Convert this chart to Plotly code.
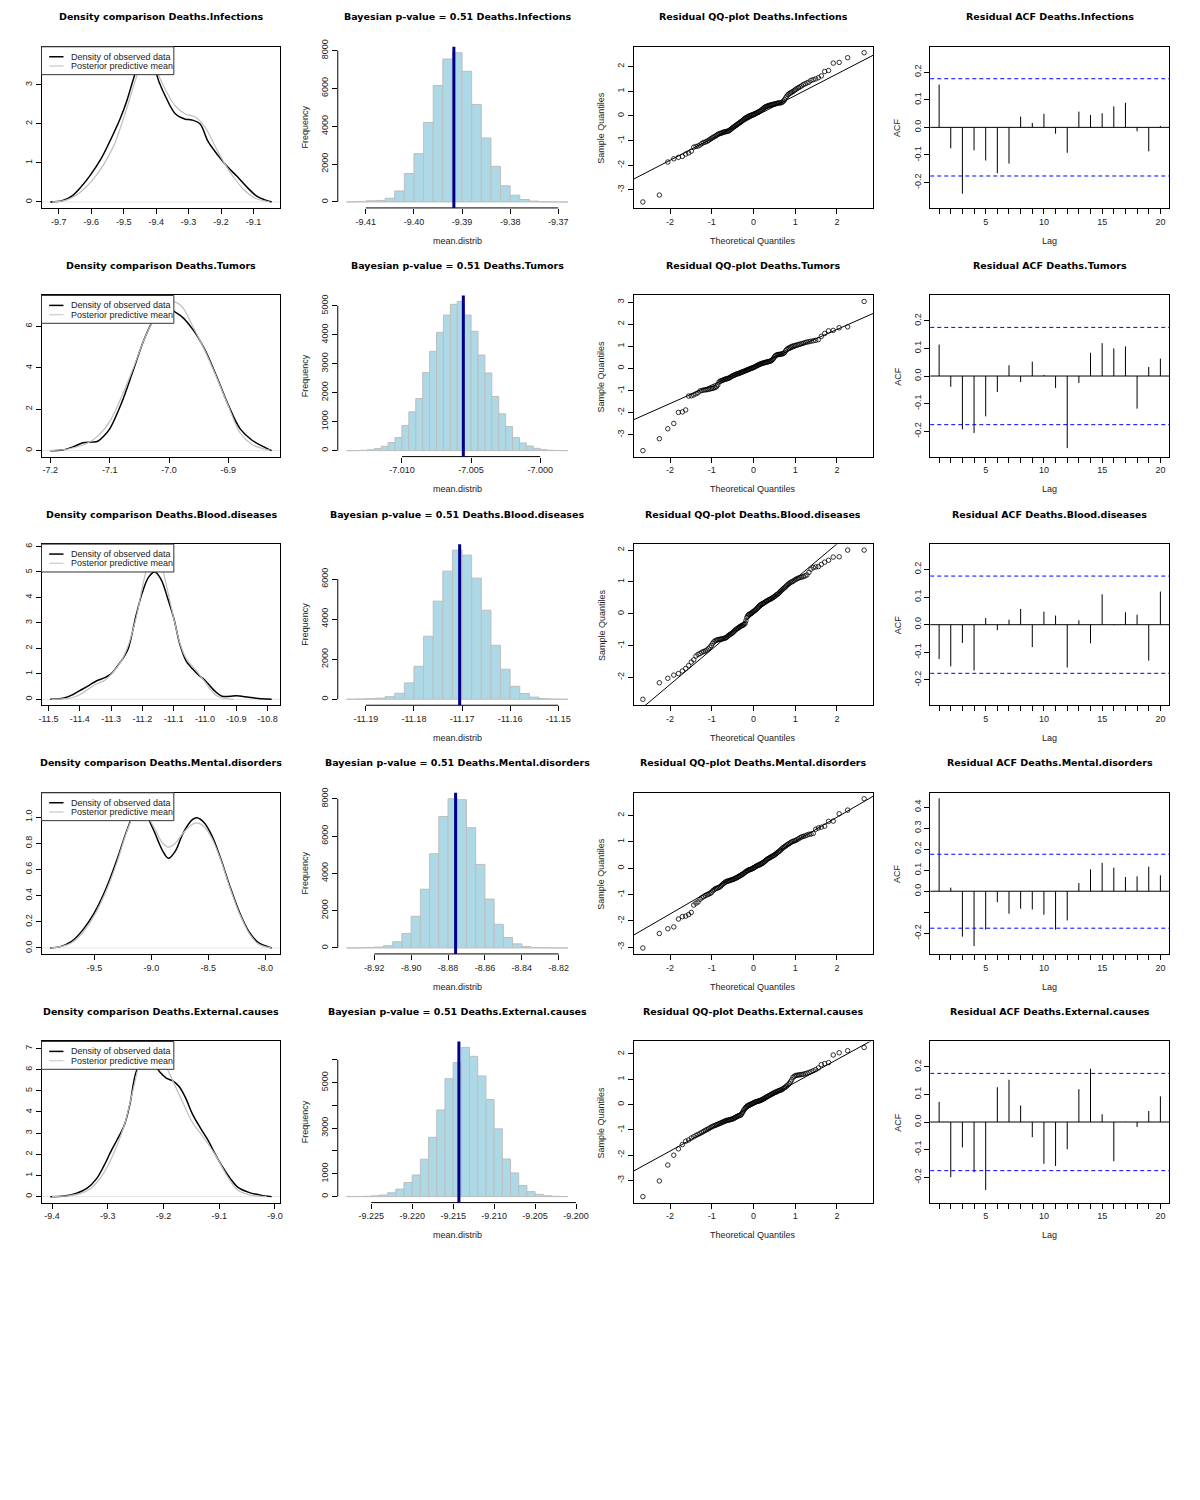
import statistics

import numpy as np
import plotly.graph_objects as go

causes = [
    "Deaths.Infections",
    "Deaths.Tumors",
    "Deaths.Blood.diseases",
    "Deaths.Mental.disorders",
    "Deaths.External.causes",
]
p_values = [0.51, 0.51, 0.51, 0.51, 0.51]

# --- density comparison (observed data vs posterior predictive mean)
obs_x = [
    [-9.726, -9.69, -9.66, -9.63, -9.60, -9.57, -9.54, -9.51, -9.49, -9.47, -9.45, -9.43, -9.41, -9.39,
     -9.37, -9.34, -9.31, -9.29, -9.265, -9.24, -9.21, -9.18, -9.15, -9.12, -9.09, -9.067, -9.044],
    [-7.2, -7.18, -7.16, -7.145, -7.13, -7.12, -7.11, -7.10, -7.08, -7.06, -7.04, -7.02, -7.00, -6.98,
     -6.96, -6.94, -6.92, -6.90, -6.88, -6.86, -6.84, -6.827],
    [-11.494, -11.45, -11.42, -11.40, -11.37, -11.35, -11.32, -11.30, -11.28, -11.26, -11.245, -11.22,
     -11.20, -11.18, -11.16, -11.14, -11.12, -11.10, -11.08, -11.06, -11.04, -11.02, -11.00, -10.97,
     -10.945, -10.92, -10.90, -10.86, -10.82, -10.787],
    [-9.887, -9.80, -9.70, -9.60, -9.50, -9.40, -9.30, -9.235, -9.185, -9.14, -9.10, -9.06, -9.02, -8.97,
     -8.90, -8.85, -8.79, -8.72, -8.64, -8.60, -8.54, -8.47, -8.39, -8.31, -8.225, -8.14, -8.06, -7.944],
    [-9.403, -9.378, -9.357, -9.337, -9.32, -9.307, -9.295, -9.283, -9.27, -9.26, -9.249, -9.235, -9.22,
     -9.207, -9.195, -9.182, -9.172, -9.161, -9.148, -9.134, -9.121, -9.107, -9.094, -9.08, -9.067,
     -9.047, -9.026, -9.006],
]
obs_y = [
    [0.0, 0.03, 0.15, 0.40, 0.72, 1.10, 1.60, 2.15, 2.60, 3.15, 3.65, 3.82, 3.55, 3.05,
     2.68, 2.25, 2.12, 2.10, 2.00, 1.55, 1.20, 0.90, 0.65, 0.38, 0.15, 0.06, 0.0],
    [0.0, 0.03, 0.20, 0.38, 0.41, 0.45, 0.70, 1.05, 2.30, 3.90, 5.50, 6.55, 6.80, 6.50,
     5.85, 4.90, 3.60, 2.20, 1.05, 0.50, 0.18, 0.0],
    [0.0, 0.05, 0.20, 0.34, 0.55, 0.70, 0.85, 1.00, 1.30, 1.65, 2.00, 3.30, 4.20, 4.80, 5.00, 4.70,
     4.00, 3.20, 2.15, 1.50, 1.20, 0.95, 0.75, 0.34, 0.12, 0.12, 0.14, 0.08, 0.02, 0.0],
    [0.0, 0.01, 0.05, 0.14, 0.27, 0.45, 0.68, 0.85, 0.97, 1.08, 1.14, 1.10, 0.98, 0.88, 0.74, 0.685,
     0.74, 0.88, 0.98, 0.995, 0.96, 0.86, 0.68, 0.47, 0.27, 0.12, 0.04, 0.0],
    [0.0, 0.03, 0.15, 0.40, 0.85, 1.45, 2.10, 2.70, 3.40, 4.40, 5.90, 6.55, 6.40, 5.90, 5.60, 5.45,
     5.20, 4.70, 3.90, 3.25, 2.70, 2.00, 1.40, 0.85, 0.45, 0.20, 0.07, 0.0],
]
pred_x = [
    [-9.72, -9.68, -9.65, -9.62, -9.59, -9.56, -9.53, -9.50, -9.47, -9.45, -9.43, -9.41, -9.39, -9.37,
     -9.34, -9.31, -9.28, -9.25, -9.22, -9.19, -9.16, -9.13, -9.10, -9.07, -9.05],
    [-7.2, -7.17, -7.14, -7.12, -7.10, -7.08, -7.06, -7.04, -7.02, -7.00, -6.98, -6.96, -6.94, -6.92,
     -6.90, -6.88, -6.86, -6.84, -6.83],
    [-11.49, -11.43, -11.40, -11.37, -11.35, -11.32, -11.30, -11.27, -11.25, -11.22, -11.20, -11.18,
     -11.16, -11.14, -11.12, -11.10, -11.08, -11.06, -11.04, -11.02, -11.00, -10.98, -10.96, -10.94,
     -10.91],
    [-9.88, -9.80, -9.70, -9.60, -9.50, -9.40, -9.30, -9.235, -9.185, -9.14, -9.10, -9.06, -9.02, -8.97,
     -8.90, -8.85, -8.79, -8.72, -8.64, -8.60, -8.54, -8.47, -8.39, -8.31, -8.225, -8.14, -8.06, -7.95],
    [-9.40, -9.37, -9.35, -9.33, -9.31, -9.29, -9.27, -9.255, -9.24, -9.225, -9.21, -9.20, -9.189,
     -9.168, -9.148, -9.131, -9.107, -9.087, -9.067, -9.047, -9.03, -9.015],
]
pred_y = [
    [0.0, 0.04, 0.15, 0.35, 0.62, 0.98, 1.45, 2.15, 2.95, 3.45, 3.70, 3.55, 3.20, 2.85,
     2.45, 2.25, 2.18, 1.92, 1.45, 1.00, 0.62, 0.32, 0.12, 0.03, 0.0],
    [0.0, 0.08, 0.33, 0.70, 1.40, 2.60, 4.00, 5.50, 6.60, 7.20, 7.00, 6.00, 4.85, 3.55,
     2.15, 0.85, 0.30, 0.08, 0.02],
    [0.0, 0.05, 0.18, 0.42, 0.58, 0.75, 0.98, 1.45, 1.95, 3.20, 4.40, 5.40, 5.86, 5.30, 4.30, 3.20,
     2.20, 1.60, 1.30, 1.00, 0.68, 0.35, 0.12, 0.04, 0.0],
    [0.0, 0.01, 0.04, 0.12, 0.25, 0.43, 0.66, 0.84, 0.96, 1.06, 1.10, 1.07, 0.99, 0.91, 0.80, 0.77,
     0.80, 0.88, 0.945, 0.955, 0.93, 0.84, 0.67, 0.46, 0.26, 0.11, 0.03, 0.0],
    [0.0, 0.04, 0.14, 0.40, 1.00, 2.00, 3.40, 5.00, 6.50, 7.05, 6.80, 6.40, 5.80, 4.60, 3.50, 2.90,
     1.97, 1.03, 0.31, 0.09, 0.02, 0.0],
]
dens_xticks = [
    [-9.7, -9.6, -9.5, -9.4, -9.3, -9.2, -9.1],
    [-7.2, -7.1, -7.0, -6.9],
    [-11.5, -11.4, -11.3, -11.2, -11.1, -11.0, -10.9, -10.8],
    [-9.5, -9.0, -8.5, -8.0],
    [-9.4, -9.3, -9.2, -9.1, -9.0],
]
dens_yticks = [
    [0, 1, 2, 3],
    [0, 2, 4, 6],
    [0, 1, 2, 3, 4, 5, 6],
    [0.0, 0.2, 0.4, 0.6, 0.8, 1.0],
    [0, 1, 2, 3, 4, 5, 6, 7],
]
dens_ydec = [0, 0, 0, 1, 0]

# --- posterior distribution of mean (histograms)
hist_start = [-9.414, -7.014, -11.194, -8.935, -9.228]
hist_width = [0.002, 0.0005, 0.002, 0.005, 0.001]
hist_counts = [
    [5, 20, 60, 80, 200, 580, 1500, 2550, 4200, 6150, 7550, 7880, 6900, 5150, 3380, 1880, 850, 360,
     130, 45, 12, 4, 1],
    [2, 5, 12, 30, 70, 150, 280, 450, 870, 1340, 1800, 2700, 3430, 4080, 4680, 5050, 5150, 4680, 4120,
     3300, 2680, 1870, 1270, 830, 450, 265, 160, 80, 35, 12, 5, 2],
    [5, 15, 30, 60, 130, 300, 820, 1650, 3150, 4900, 6400, 7450, 7200, 6050, 4450, 2700, 1500, 650,
     290, 110, 40, 12, 4],
    [3, 10, 25, 50, 120, 330, 780, 1700, 3150, 5050, 7050, 8000, 7950, 6450, 4480, 2620, 1270, 560,
     220, 75, 25, 8, 3, 1],
    [3, 8, 15, 35, 70, 170, 330, 620, 950, 1640, 2600, 3800, 5170, 5880, 6540, 6150, 5290, 4260, 2970,
     1650, 1040, 490, 220, 100, 40, 15, 5],
]
observed_mean = [-9.3917, -7.00556, -11.1705, -8.8759, -9.2143]
hist_xticks = [
    [-9.41, -9.40, -9.39, -9.38, -9.37],
    [-7.010, -7.005, -7.000],
    [-11.19, -11.18, -11.17, -11.16, -11.15],
    [-8.92, -8.90, -8.88, -8.86, -8.84, -8.82],
    [-9.225, -9.220, -9.215, -9.210, -9.205, -9.200],
]
hist_xdec = [2, 3, 2, 2, 3]
hist_yticks = [
    [0, 2000, 4000, 6000, 8000],
    [0, 1000, 2000, 3000, 4000, 5000],
    [0, 2000, 4000, 6000],
    [0, 2000, 4000, 6000, 8000],
    [0, 1000, 2000, 3000, 4000, 5000, 6000],
]
hist_ylabels = [
    ["0", "2000", "4000", "6000", "8000"],
    ["0", "1000", "2000", "3000", "4000", "5000"],
    ["0", "2000", "4000", "6000"],
    ["0", "2000", "4000", "6000", "8000"],
    ["0", "1000", "", "3000", "", "5000", ""],
]

# --- residual sample quantiles (sorted, 125 per cause)
qq_sample = [
    [-3.49, -3.21, -1.87, -1.74, -1.68, -1.64, -1.55, -1.50, -1.43, -1.27,
     -1.24, -1.22, -1.18, -1.12, -1.08, -1.06, -1.03, -1.00, -0.95, -0.92,
     -0.88, -0.85, -0.82, -0.79, -0.75, -0.73, -0.71, -0.70, -0.68, -0.66,
     -0.65, -0.64, -0.63, -0.62, -0.61, -0.58, -0.55, -0.52, -0.48, -0.46,
     -0.43, -0.40, -0.38, -0.35, -0.32, -0.30, -0.27, -0.24, -0.22, -0.19,
     -0.16, -0.13, -0.10, -0.08, -0.06, -0.04, -0.02, 0.00, 0.01, 0.02,
     0.04, 0.05, 0.06, 0.08, 0.09, 0.11, 0.13, 0.14, 0.16, 0.18,
     0.20, 0.22, 0.25, 0.28, 0.31, 0.34, 0.36, 0.38, 0.39, 0.41,
     0.42, 0.43, 0.44, 0.45, 0.46, 0.47, 0.48, 0.49, 0.50, 0.51,
     0.52, 0.53, 0.53, 0.54, 0.56, 0.60, 0.66, 0.73, 0.80, 0.86,
     0.90, 0.93, 0.96, 0.99, 1.03, 1.07, 1.11, 1.15, 1.18, 1.22,
     1.27, 1.30, 1.34, 1.37, 1.44, 1.47, 1.50, 1.55, 1.62, 1.80,
     1.84, 2.14, 2.17, 2.36, 2.56],
    [-3.72, -3.18, -2.73, -2.49, -1.99, -1.97, -1.88, -1.25, -1.24, -1.20,
     -1.15, -1.10, -1.02, -1.00, -0.98, -0.97, -0.96, -0.95, -0.93, -0.91,
     -0.90, -0.88, -0.86, -0.82, -0.75, -0.62, -0.58, -0.56, -0.54, -0.52,
     -0.50, -0.48, -0.47, -0.46, -0.44, -0.42, -0.39, -0.36, -0.34, -0.32,
     -0.30, -0.28, -0.26, -0.25, -0.24, -0.22, -0.21, -0.19, -0.17, -0.16,
     -0.14, -0.13, -0.11, -0.10, -0.08, -0.06, -0.05, -0.03, -0.02, 0.00,
     0.01, 0.03, 0.04, 0.06, 0.08, 0.10, 0.12, 0.14, 0.16, 0.18,
     0.20, 0.21, 0.22, 0.24, 0.25, 0.26, 0.27, 0.28, 0.29, 0.30,
     0.31, 0.32, 0.34, 0.36, 0.40, 0.45, 0.52, 0.57, 0.60, 0.62,
     0.63, 0.63, 0.64, 0.65, 0.66, 0.68, 0.72, 0.80, 0.86, 0.90,
     0.93, 0.96, 0.99, 1.01, 1.03, 1.04, 1.06, 1.08, 1.10, 1.12,
     1.14, 1.17, 1.19, 1.21, 1.23, 1.25, 1.27, 1.30, 1.45, 1.58,
     1.70, 1.72, 1.84, 1.88, 3.03],
    [-2.69, -2.17, -2.03, -1.93, -1.88, -1.80, -1.72, -1.63, -1.52, -1.45,
     -1.33, -1.28, -1.25, -1.21, -1.19, -1.17, -1.14, -1.10, -1.05, -1.00,
     -0.93, -0.88, -0.85, -0.83, -0.82, -0.81, -0.80, -0.80, -0.79, -0.78,
     -0.77, -0.76, -0.74, -0.71, -0.68, -0.66, -0.64, -0.62, -0.60, -0.57,
     -0.54, -0.51, -0.49, -0.47, -0.45, -0.43, -0.41, -0.39, -0.38, -0.36,
     -0.35, -0.33, -0.30, -0.22, -0.12, -0.07, -0.04, -0.02, 0.00, 0.01,
     0.03, 0.05, 0.07, 0.09, 0.11, 0.13, 0.16, 0.19, 0.22, 0.25,
     0.27, 0.29, 0.31, 0.32, 0.33, 0.35, 0.37, 0.39, 0.40, 0.42,
     0.44, 0.45, 0.46, 0.48, 0.50, 0.52, 0.54, 0.56, 0.59, 0.61,
     0.63, 0.66, 0.70, 0.73, 0.76, 0.79, 0.82, 0.85, 0.89, 0.92,
     0.95, 0.98, 1.00, 1.02, 1.05, 1.08, 1.10, 1.12, 1.14, 1.15,
     1.17, 1.19, 1.22, 1.30, 1.40, 1.45, 1.47, 1.48, 1.55, 1.62,
     1.68, 1.78, 1.79, 2.00, 2.00],
    [-3.03, -2.48, -2.30, -2.23, -1.93, -1.84, -1.82, -1.76, -1.68, -1.40,
     -1.33, -1.28, -1.18, -1.12, -1.08, -1.04, -1.01, -0.99, -0.96, -0.93,
     -0.86, -0.82, -0.78, -0.76, -0.75, -0.73, -0.70, -0.66, -0.62, -0.58,
     -0.55, -0.52, -0.50, -0.49, -0.48, -0.47, -0.45, -0.44, -0.43, -0.42,
     -0.40, -0.38, -0.37, -0.35, -0.33, -0.31, -0.29, -0.27, -0.25, -0.23,
     -0.21, -0.18, -0.16, -0.13, -0.11, -0.09, -0.07, -0.06, -0.05, -0.04,
     -0.02, -0.01, 0.01, 0.03, 0.05, 0.07, 0.09, 0.10, 0.12, 0.13,
     0.14, 0.16, 0.18, 0.20, 0.22, 0.25, 0.28, 0.31, 0.34, 0.36,
     0.38, 0.40, 0.42, 0.44, 0.46, 0.48, 0.50, 0.53, 0.56, 0.59,
     0.62, 0.65, 0.68, 0.72, 0.76, 0.79, 0.82, 0.85, 0.88, 0.91,
     0.94, 0.97, 1.00, 1.02, 1.04, 1.06, 1.09, 1.12, 1.16, 1.19,
     1.21, 1.23, 1.26, 1.29, 1.30, 1.32, 1.48, 1.53, 1.56, 1.60,
     1.78, 1.79, 2.07, 2.21, 2.64],
    [-3.64, -3.02, -2.39, -2.00, -1.75, -1.58, -1.45, -1.40, -1.32, -1.27,
     -1.22, -1.18, -1.14, -1.10, -1.06, -1.02, -0.99, -0.96, -0.92, -0.89,
     -0.86, -0.84, -0.82, -0.80, -0.78, -0.76, -0.74, -0.72, -0.70, -0.68,
     -0.66, -0.64, -0.63, -0.62, -0.61, -0.60, -0.59, -0.58, -0.57, -0.55,
     -0.53, -0.51, -0.49, -0.47, -0.45, -0.44, -0.43, -0.41, -0.37, -0.31,
     -0.25, -0.20, -0.15, -0.11, -0.08, -0.05, -0.03, -0.01, 0.00, 0.02,
     0.03, 0.05, 0.06, 0.08, 0.10, 0.11, 0.12, 0.13, 0.14, 0.15,
     0.16, 0.18, 0.19, 0.21, 0.23, 0.25, 0.27, 0.29, 0.31, 0.33,
     0.35, 0.37, 0.39, 0.41, 0.43, 0.45, 0.47, 0.49, 0.50, 0.52,
     0.54, 0.56, 0.57, 0.58, 0.61, 0.64, 0.67, 0.70, 0.74, 0.78,
     0.83, 0.90, 0.98, 1.08, 1.12, 1.15, 1.16, 1.17, 1.18, 1.19,
     1.20, 1.22, 1.24, 1.27, 1.30, 1.34, 1.38, 1.45, 1.58, 1.62,
     1.66, 1.96, 2.05, 2.13, 2.26],
]
qq_xticks = [-2, -1, 0, 1, 2]
qq_yticks = [
    [-3, -2, -1, 0, 1, 2],
    [-3, -2, -1, 0, 1, 2, 3],
    [-2, -1, 0, 1, 2],
    [-3, -2, -1, 0, 1, 2],
    [-3, -2, -1, 0, 1, 2],
]

# --- residual autocorrelation, lags 1..20
acf_lags = list(range(1, 21))
acf_values = [
    [0.155, -0.076, -0.240, -0.083, -0.120, -0.166, -0.131, 0.039, 0.016, 0.049,
     -0.023, -0.092, 0.057, 0.045, 0.051, 0.076, 0.089, -0.014, -0.087, 0.005],
    [0.114, -0.039, -0.193, -0.206, -0.146, -0.058, 0.039, -0.022, 0.052, 0.004,
     -0.043, -0.261, -0.025, 0.084, 0.119, 0.100, 0.107, -0.118, 0.033, 0.063],
    [-0.124, -0.151, -0.066, -0.166, 0.024, -0.020, 0.018, 0.057, -0.081, 0.047,
     0.033, -0.155, 0.016, -0.067, 0.110, -0.002, 0.045, 0.036, -0.130, 0.120],
    [0.442, 0.017, -0.216, -0.261, -0.183, -0.052, -0.107, -0.083, -0.087, -0.112,
     -0.183, -0.139, 0.039, 0.104, 0.135, 0.112, 0.068, 0.071, 0.117, 0.076],
    [0.073, -0.200, -0.092, -0.182, -0.246, 0.126, 0.153, 0.060, -0.055, -0.151,
     -0.159, -0.099, 0.119, 0.193, 0.028, -0.142, 0.001, -0.018, 0.040, 0.093],
]
acf_ci = 0.176
acf_ylim = [[-0.27, 0.27], [-0.27, 0.27], [-0.27, 0.27], [-0.27, 0.44], [-0.27, 0.27]]
acf_yticks = [
    [-0.2, -0.1, 0.0, 0.1, 0.2],
    [-0.2, -0.1, 0.0, 0.1, 0.2],
    [-0.2, -0.1, 0.0, 0.1, 0.2],
    [-0.2, -0.1, 0.0, 0.1, 0.2, 0.3, 0.4],
    [-0.2, -0.1, 0.0, 0.1, 0.2],
]
acf_ylabels = [
    ["-0.2", "-0.1", "0.0", "0.1", "0.2"],
    ["-0.2", "-0.1", "0.0", "0.1", "0.2"],
    ["-0.2", "-0.1", "0.0", "0.1", "0.2"],
    ["-0.2", "", "0.0", "0.1", "0.2", "0.3", "0.4"],
    ["-0.2", "-0.1", "0.0", "0.1", "0.2"],
]

W, H = 1200, 1500
TICK_FONT = dict(family="Liberation Sans Narrow, Liberation Sans, Arial, sans-serif", size=9, color="#222")
LAB_FONT = dict(family="Liberation Sans Narrow, Liberation Sans, Arial, sans-serif", size=9, color="#222")
TITLE_FONT = dict(family="DejaVu Sans, sans-serif", size=9.5, color="black")
GREY = "#BEBEBE"


def pad(lo, hi, f=0.04):
    d = (hi - lo) * f
    return [lo - d, hi + d]


def fmt(vals, dec):
    return [f"{v:.{dec}f}" for v in vals]


def domains(row, col):
    left, right = col * 300 + 39, col * 300 + 281
    top, bottom = row * 250 + 39, row * 250 + 201
    return [left / W, right / W], [1 - bottom / H, 1 - top / H]


fig = go.Figure()
axes = {}
shapes = []
annotations = []


def sfx(k):
    return "" if k == 1 else str(k)


def set_axes(k, row, col, xkw, ykw, box=True):
    xd, yd = domains(row, col)
    base = dict(showgrid=False, zeroline=False, ticks="outside", ticklen=5, tickwidth=1,
                tickcolor="black", tickfont=TICK_FONT, fixedrange=True,
                showline=box, mirror=box, linecolor="black", linewidth=1)
    axes["xaxis" + sfx(k)] = dict(base, domain=xd, anchor="y" + sfx(k), **xkw)
    axes["yaxis" + sfx(k)] = dict(base, domain=yd, anchor="x" + sfx(k), tickangle=-90, **ykw)


def note(k, text, x, y, font, **kw):
    s = sfx(k)
    d = dict(text=text, x=x, y=y, xref=f"x{s} domain", yref=f"y{s} domain", showarrow=False,
             font=font, xanchor="center", yanchor="middle")
    d.update(kw)
    annotations.append(d)


def add_titles(k, title, xlab=None, ylab=None):
    note(k, f"<b>{title}</b>", 0.5, 1 + 30 / 162, TITLE_FONT)
    if xlab:
        note(k, xlab, 0.5, -33 / 162, LAB_FONT)
    if ylab:
        note(k, ylab, -33 / 242, 0.5, LAB_FONT, textangle=-90)


nd = statistics.NormalDist()

for r, cause in enumerate(causes):
    # density comparison
    k = r * 4 + 1
    s = sfx(k)
    xr = pad(min(obs_x[r] + pred_x[r]), max(obs_x[r] + pred_x[r]))
    yr = pad(0, max(obs_y[r] + pred_y[r]))
    set_axes(k, r, 0,
             dict(range=xr, tickvals=dens_xticks[r], ticktext=fmt(dens_xticks[r], 1)),
             dict(range=yr, tickvals=dens_yticks[r], ticktext=fmt(dens_yticks[r], dens_ydec[r])))
    shapes.append(dict(type="line", xref=f"x{s} domain", yref=f"y{s}", x0=0, x1=1, y0=0, y1=0,
                       line=dict(color="#E4E4E4", width=1), layer="below"))
    fig.add_trace(go.Scatter(x=obs_x[r], y=obs_y[r], mode="lines", line=dict(color="black", width=1.5, shape="spline"),
                             xaxis="x" + s, yaxis="y" + s))
    fig.add_trace(go.Scatter(x=pred_x[r], y=pred_y[r], mode="lines", line=dict(color=GREY, width=1.2, shape="spline"),
                             xaxis="x" + s, yaxis="y" + s))
    # legend box (top left, white background hides the peaks like R's legend)
    shapes.append(dict(type="rect", xref=f"x{s} domain", yref=f"y{s} domain", x0=0, x1=134 / 242,
                       y0=1 - 28 / 162, y1=1, fillcolor="white", line=dict(color="#333", width=1)))
    for yy, col in [(1 - 10 / 162, "black"), (1 - 19.3 / 162, "#D3D3D3")]:
        shapes.append(dict(type="line", xref=f"x{s} domain", yref=f"y{s} domain", x0=0.032, x1=0.092,
                           y0=yy, y1=yy, line=dict(color=col, width=1.5)))
    for yy, txt in [(1 - 10 / 162, "Density of observed data"), (1 - 19.3 / 162, "Posterior predictive mean")]:
        note(k, txt, 0.116, yy, LAB_FONT, xanchor="left")
    add_titles(k, f"Density comparison {cause}")

    # posterior mean histogram
    k = r * 4 + 2
    s = sfx(k)
    n = len(hist_counts[r])
    w = hist_width[r]
    centers = [hist_start[r] + w * (i + 0.5) for i in range(n)]
    xr = pad(hist_start[r], hist_start[r] + n * w)
    yr = pad(0, max(hist_counts[r]))
    set_axes(k, r, 1,
             dict(range=xr, tickvals=hist_xticks[r], ticktext=fmt(hist_xticks[r], hist_xdec[r])),
             dict(range=yr, tickvals=hist_yticks[r], ticktext=hist_ylabels[r]), box=False)
    fig.add_trace(go.Bar(x=centers, y=hist_counts[r], width=[w] * n,
                         marker=dict(color="#ADD8E6", line=dict(color=GREY, width=1)),
                         xaxis="x" + s, yaxis="y" + s))
    shapes.append(dict(type="line", xref=f"x{s}", yref=f"y{s} domain", x0=hist_xticks[r][0],
                       x1=hist_xticks[r][-1], y0=0, y1=0, line=dict(color="black", width=1)))
    shapes.append(dict(type="line", xref=f"x{s} domain", yref=f"y{s}", x0=0, x1=0,
                       y0=hist_yticks[r][0], y1=hist_yticks[r][-1], line=dict(color="black", width=1)))
    shapes.append(dict(type="line", xref=f"x{s}", yref=f"y{s} domain", x0=observed_mean[r],
                       x1=observed_mean[r], y0=0, y1=1, line=dict(color="#00008B", width=3)))
    add_titles(k, f"Bayesian p-value = {p_values[r]:.2f} {cause}", "mean.distrib", "Frequency")

    # residual QQ plot
    k = r * 4 + 3
    s = sfx(k)
    sample = qq_sample[r]
    m = len(sample)
    theo = [nd.inv_cdf((i - 0.5) / m) for i in range(1, m + 1)]
    q1, q3 = np.quantile(sample, [0.25, 0.75])
    t1, t3 = nd.inv_cdf(0.25), nd.inv_cdf(0.75)
    slope = (q3 - q1) / (t3 - t1)
    icpt = q1 - slope * t1
    xr = pad(min(theo), max(theo))
    yr = pad(min(sample), max(sample))
    set_axes(k, r, 2,
             dict(range=xr, tickvals=qq_xticks, ticktext=fmt(qq_xticks, 0)),
             dict(range=yr, tickvals=qq_yticks[r], ticktext=fmt(qq_yticks[r], 0)))
    fig.add_trace(go.Scatter(x=theo, y=sample, mode="markers",
                             marker=dict(symbol="circle-open", size=4.5, color="black", line=dict(width=0.8)),
                             xaxis="x" + s, yaxis="y" + s))
    lx = [xr[0] - 1, xr[1] + 1]
    fig.add_trace(go.Scatter(x=lx, y=[icpt + slope * v for v in lx], mode="lines",
                             line=dict(color="black", width=1), xaxis="x" + s, yaxis="y" + s))
    add_titles(k, f"Residual QQ-plot {cause}", "Theoretical Quantiles", "Sample Quantiles")

    # residual ACF
    k = r * 4 + 4
    s = sfx(k)
    sx, sy = [], []
    for lag, v in zip(acf_lags, acf_values[r]):
        sx += [lag, lag, None]
        sy += [0, v, None]
    set_axes(k, r, 3,
             dict(range=pad(acf_lags[0], acf_lags[-1]), tickvals=acf_lags,
                  ticktext=[str(l) if l % 5 == 0 else "" for l in acf_lags]),
             dict(range=pad(*acf_ylim[r]), tickvals=acf_yticks[r], ticktext=acf_ylabels[r]))
    fig.add_trace(go.Scatter(x=sx, y=sy, mode="lines", line=dict(color="black", width=1),
                             xaxis="x" + s, yaxis="y" + s))
    shapes.append(dict(type="line", xref=f"x{s} domain", yref=f"y{s}", x0=0, x1=1, y0=0, y1=0,
                       line=dict(color="black", width=1)))
    for c in (acf_ci, -acf_ci):
        shapes.append(dict(type="line", xref=f"x{s} domain", yref=f"y{s}", x0=0, x1=1, y0=c, y1=c,
                           line=dict(color="#0000FF", width=1, dash="4px,3px")))
    add_titles(k, f"Residual ACF {cause}", "Lag", "ACF")

fig.update_layout(
    width=W, height=H,
    margin=dict(l=0, r=0, t=0, b=0),
    paper_bgcolor="white", plot_bgcolor="white",
    showlegend=False,
    shapes=shapes, annotations=annotations,
    **axes,
)
# page body has a default 8px margin; drop it so the figure sits at the window origin
fig.write_html("out.html", config={"displayModeBar": False},
               post_script="document.body.style.margin = '0';")
